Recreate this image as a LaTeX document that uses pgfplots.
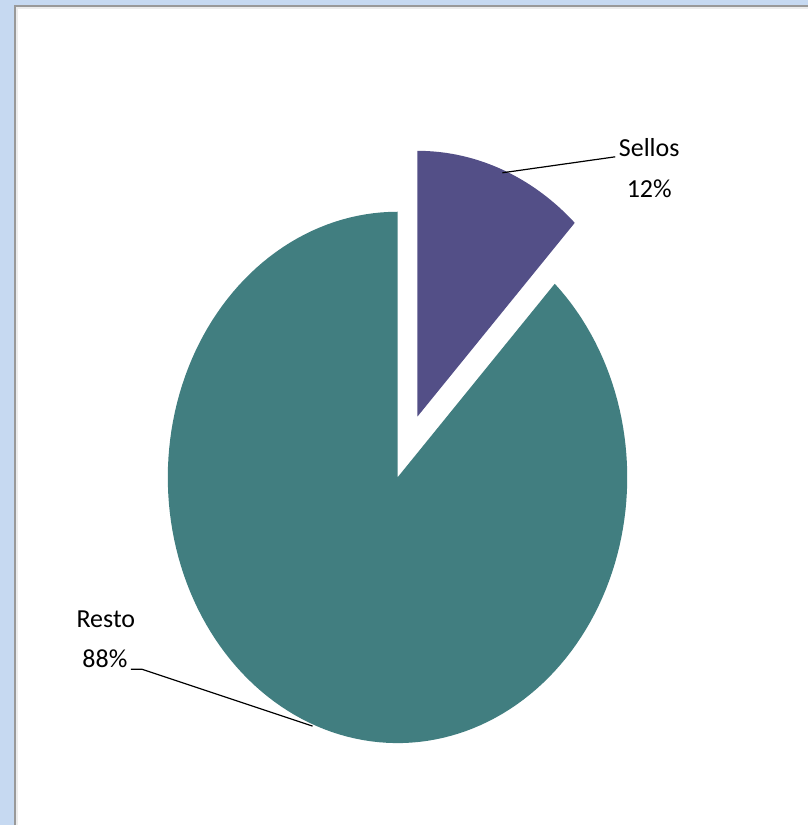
\documentclass[border=0pt]{standalone}
\usepackage{pgfplots}
\pgfplotsset{compat=1.18}
\usepackage{fontspec}
\setmainfont{Carlito}
\definecolor{frameblue}{RGB}{198,217,241}
\definecolor{sellos}{RGB}{83,79,135}
\definecolor{resto}{RGB}{65,126,128}
% data (percent)
\def\vSellos{12}
\def\vResto{88}
\begin{document}
\begin{tikzpicture}
\pgfmathsetmacro{\angS}{90-3.6*\vSellos}
\pgfmathsetmacro{\angR}{90+3.6*\vResto}
\begin{axis}[
  width=404.5pt, height=413pt, scale only axis,
  xmin=0, xmax=809, ymin=0, ymax=826,
  hide axis, clip=false,
]
% frame
\fill[frameblue] (axis cs:0,0) rectangle (axis cs:809,826);
\fill[white] (axis cs:15,0) rectangle (axis cs:809,819);
\draw[gray!80, line width=1pt] (axis cs:15,0) -- (axis cs:15,819.5) -- (axis cs:809,819.5);
\draw[gray!15, line width=1pt] (axis cs:17,0) -- (axis cs:17,817.5) -- (axis cs:809,817.5);
% Resto slice
\addplot[fill=resto, draw=none, domain=90:\angR, samples=160, variable=\t]
  ({398+230*cos(\t)}, {348+266*sin(\t)}) -- (axis cs:398,348) -- cycle;
% Sellos slice (exploded)
\addplot[fill=sellos, draw=none, domain=\angS:90, samples=50, variable=\t]
  ({418+230*cos(\t)}, {409+266*sin(\t)}) -- (axis cs:418,409) -- cycle;
% leader lines
\addplot[black, line width=0.6pt] coordinates {(503,653) (616,669)};
\addplot[black, line width=0.6pt] coordinates {(131,156) (142,156) (313,99)};
% labels
\node[anchor=base, font=\fontsize{13}{15}\selectfont] at (axis cs:650,669) {Sellos};
\node[anchor=base, font=\fontsize{13}{15}\selectfont] at (axis cs:650,628) {12\%};
\node[anchor=base, font=\fontsize{13}{15}\selectfont] at (axis cs:106,198) {Resto};
\node[anchor=base, font=\fontsize{13}{15}\selectfont] at (axis cs:105,158) {88\%};
\end{axis}
\end{tikzpicture}
\end{document}
